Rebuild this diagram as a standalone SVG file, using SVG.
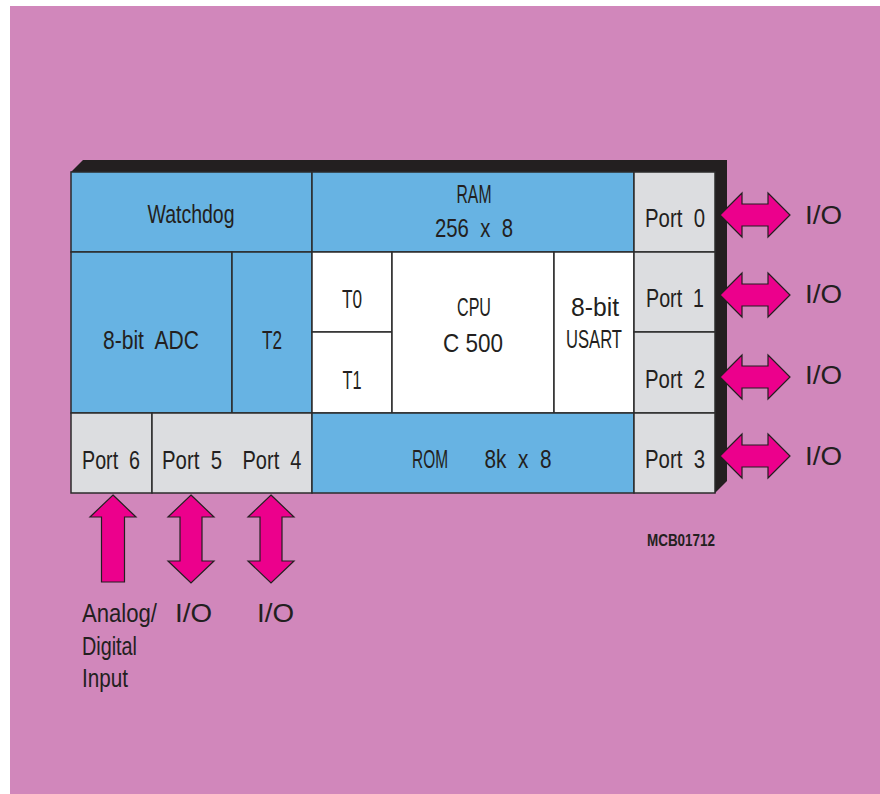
<svg xmlns="http://www.w3.org/2000/svg" width="880" height="794" viewBox="0 0 880 794">
<style>
.bg{fill:#d187bb}
.blue{fill:#67b3e3;stroke:#2b2b2b;stroke-width:1.5}
.gray{fill:#dcdde0;stroke:#2b2b2b;stroke-width:1.5}
.white{fill:#ffffff;stroke:#2b2b2b;stroke-width:1.5}
text{font-family:"Liberation Sans","Arial",sans-serif;fill:#231f20}
.t{font-size:25px;text-anchor:middle}
.io{font-size:26px}
.lab{font-size:25px}
.arr{fill:#ec008c;stroke:#231f20;stroke-width:1.2;stroke-linejoin:miter}
</style>
<defs>
<path id="hArrow" class="arr" d="M0,0 L22,-22 L22,-11 L48,-11 L48,-22 L70,0 L48,22 L48,11 L22,11 L22,22 Z"/>
<path id="vArrow" class="arr" d="M0,0 L23,22 L11,22 L11,66 L23,66 L0,88 L-23,66 L-11,66 L-11,22 L-23,22 Z"/>
</defs>
<rect class="bg" x="10" y="6" width="870" height="788"/>
<polygon points="71,172 83,160 727,160 727,481 715,493" fill="#231f20"/>

<g id="watchdog"><rect class="blue" x="71" y="172" width="241" height="80"/><text class="t" x="191" y="223" textLength="87" lengthAdjust="spacingAndGlyphs">Watchdog</text></g>
<g id="ram"><rect class="blue" x="312" y="172" width="322" height="80"/><text class="t" x="474" y="203" textLength="35" lengthAdjust="spacingAndGlyphs">RAM</text><text class="t" x="474" y="237" xml:space="preserve" textLength="78" lengthAdjust="spacingAndGlyphs">256  x  8</text></g>
<g id="port0"><rect class="gray" x="634" y="172" width="81" height="80"/><text class="t" x="675" y="227" xml:space="preserve" textLength="60" lengthAdjust="spacingAndGlyphs">Port  0</text></g>
<g id="adc"><rect class="blue" x="71" y="252" width="161" height="161"/><text class="t" x="151" y="349" xml:space="preserve" textLength="96" lengthAdjust="spacingAndGlyphs">8-bit  ADC</text></g>
<g id="t2"><rect class="blue" x="232" y="252" width="80" height="161"/><text class="t" x="272" y="349" textLength="20" lengthAdjust="spacingAndGlyphs">T2</text></g>
<g id="t0"><rect class="white" x="312" y="252" width="80" height="80"/><text class="t" x="352" y="308" textLength="20" lengthAdjust="spacingAndGlyphs">T0</text></g>
<g id="t1"><rect class="white" x="312" y="332" width="80" height="81"/><text class="t" x="352" y="389" textLength="19" lengthAdjust="spacingAndGlyphs">T1</text></g>
<g id="cpu"><rect class="white" x="392" y="252" width="162" height="161"/><text class="t" x="474" y="316" textLength="34" lengthAdjust="spacingAndGlyphs">CPU</text><text class="t" x="473" y="352" textLength="60" lengthAdjust="spacingAndGlyphs">C 500</text></g>
<g id="usart"><rect class="white" x="554" y="252" width="80" height="161"/><text class="t" x="595" y="316" textLength="48" lengthAdjust="spacingAndGlyphs">8-bit</text><text class="t" x="594" y="348" textLength="56" lengthAdjust="spacingAndGlyphs">USART</text></g>
<g id="port1"><rect class="gray" x="634" y="252" width="81" height="80"/><text class="t" x="675" y="307" xml:space="preserve" textLength="58" lengthAdjust="spacingAndGlyphs">Port  1</text></g>
<g id="port2"><rect class="gray" x="634" y="332" width="81" height="81"/><text class="t" x="675" y="388" xml:space="preserve" textLength="60" lengthAdjust="spacingAndGlyphs">Port  2</text></g>
<g id="port6"><rect class="gray" x="71" y="413" width="81" height="80"/><text class="t" x="111" y="469" xml:space="preserve" textLength="58" lengthAdjust="spacingAndGlyphs">Port  6</text></g>
<g id="port54"><rect class="gray" x="152" y="413" width="160" height="80"/><text class="t" x="192" y="469" xml:space="preserve" textLength="60" lengthAdjust="spacingAndGlyphs">Port  5</text><text class="t" x="272" y="469" xml:space="preserve" textLength="59" lengthAdjust="spacingAndGlyphs">Port  4</text></g>
<g id="rom"><rect class="blue" x="312" y="413" width="322" height="80"/><text class="t" x="430" y="468" textLength="36" lengthAdjust="spacingAndGlyphs">ROM</text><text class="t" x="518" y="468" xml:space="preserve" textLength="67" lengthAdjust="spacingAndGlyphs">8k  x  8</text></g>
<g id="port3"><rect class="gray" x="634" y="413" width="81" height="80"/><text class="t" x="675" y="468" xml:space="preserve" textLength="60" lengthAdjust="spacingAndGlyphs">Port  3</text></g>

<g id="connectors">
<use href="#hArrow" x="720" y="215"/>
<use href="#hArrow" x="720" y="295"/>
<use href="#hArrow" x="720" y="377"/>
<use href="#hArrow" x="720" y="456"/>
<path class="arr" d="M113,495 L136,517 L124.5,517 L124.5,582 L101.5,582 L101.5,517 L90,517 Z"/>
<use href="#vArrow" x="191" y="495"/>
<use href="#vArrow" x="271" y="495"/>
</g>

<g id="labels">
<text class="io" x="805" y="224" textLength="37" lengthAdjust="spacingAndGlyphs">I/O</text>
<text class="io" x="805" y="303" textLength="37" lengthAdjust="spacingAndGlyphs">I/O</text>
<text class="io" x="805" y="384" textLength="37" lengthAdjust="spacingAndGlyphs">I/O</text>
<text class="io" x="805" y="465" textLength="37" lengthAdjust="spacingAndGlyphs">I/O</text>
<text class="io" x="175" y="622" textLength="37" lengthAdjust="spacingAndGlyphs">I/O</text>
<text class="io" x="257" y="622" textLength="37" lengthAdjust="spacingAndGlyphs">I/O</text>
<text class="lab" x="82" y="622" textLength="75" lengthAdjust="spacingAndGlyphs">Analog/</text>
<text class="lab" x="82" y="655" textLength="55" lengthAdjust="spacingAndGlyphs">Digital</text>
<text class="lab" x="82" y="687" textLength="46" lengthAdjust="spacingAndGlyphs">Input</text>
<text x="647" y="546" style="font-size:17px;font-weight:bold" textLength="68" lengthAdjust="spacingAndGlyphs">MCB01712</text>
</g>
</svg>
